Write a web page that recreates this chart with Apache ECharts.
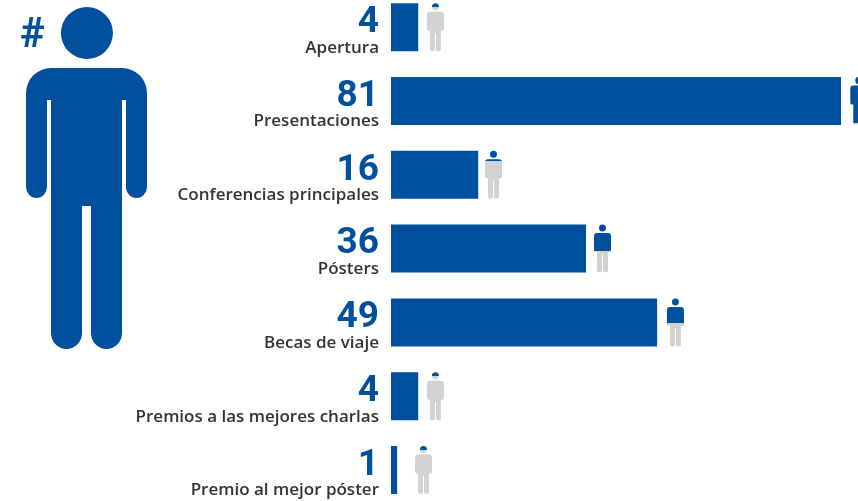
<!DOCTYPE html>
<html><head><meta charset="utf-8">
<style>html,body{margin:0;padding:0;background:#fff}#c{width:858px;height:501px}</style>
<script src="https://cdn.jsdelivr.net/npm/echarts@6/dist/echarts.min.js"></script>
</head><body><div id="c"></div>
<script>
var categories = ['Apertura','Presentaciones','Conferencias principales','Pósters','Becas de viaje','Premios a las mejores charlas','Premio al mejor póster'];
var counts = [4,81,16,36,49,4,1];
var barLengths = [4.9,81,15.7,35.1,47.9,4.9,1.1];
var iconPositions = [8.0,84.2,18.45,38.07,51.2,8.0,5.85];
var iconFill = [0.08,0.95,0.22,0.54,0.52,0.08,0.08];

var BLUE='#00509d', GRAY='#d2d2d2', TEXT='#333333';
var personPath='M8.5 0 A3.5 3.5 0 1 1 8.49 0 Z M3 8.5 H14 Q17 8.5 17 11.5 V25.5 Q17 27.5 15.5 27.5 H14 V46 Q14 48 11.6 48 Q9 48 9 46 V30 H8 V46 Q8 48 5.4 48 Q3 48 3 46 V27.5 H1.5 Q0 27.5 0 25.5 V11.5 Q0 8.5 3 8.5 Z';
var bigPerson='M87 7 A26 26 0 1 1 86.9 7 Z M52 68 H122 A25 25 0 0 1 147 93 V187 A10.5 11 0 0 1 126 187 V100 H122 V333 A15.5 16 0 0 1 91 333 V206 H82 V333 A15.5 16 0 0 1 51 333 V100 H47 V187 A10.5 11 0 0 1 26 187 V93 A25 25 0 0 1 52 68 Z';

var chart=echarts.init(document.getElementById('c'),null,{renderer:'canvas'});
chart.setOption({
  animation:false,
  backgroundColor:'#fff',
  grid:{left:391,top:-9.7,width:500,height:516.6,containLabel:false,outerBoundsMode:'none'},
  xAxis:{type:'value',min:0,max:90,show:false},
  yAxis:{type:'category',inverse:true,data:categories,
    axisLine:{show:false},axisTick:{show:false},
    axisLabel:{margin:12,align:'right',padding:[11,0,0,0],
      formatter:function(v,i){return '{n|'+counts[i]+'}\n{t|'+v+'}';},
      rich:{
        n:{fontFamily:'Roboto',fontWeight:'bold',fontSize:37,lineHeight:30,color:BLUE,align:'right'},
        t:{fontFamily:'Open Sans',fontWeight:600,fontSize:17,lineHeight:20,color:TEXT,align:'right'}
      }}},
  series:[
    {type:'bar',data:barLengths,barWidth:48,itemStyle:{color:BLUE},silent:true},
    {type:'scatter',clip:false,silent:true,
      symbol:'path://'+personPath,symbolSize:[17,48],symbolKeepAspect:false,
      data:iconPositions.map(function(x,i){
        return {value:[x,categories[i]],itemStyle:{opacity:1,color:{type:'linear',x:0,y:0,x2:0,y2:1,
          colorStops:[{offset:0,color:BLUE},{offset:iconFill[i],color:BLUE},{offset:iconFill[i],color:GRAY},{offset:1,color:GRAY}]}}};
      })},
    {type:'custom',coordinateSystem:'none',silent:true,data:[0],clip:false,
      renderItem:function(){
        return {type:'path',shape:{pathData:bigPerson,layout:'cover',x:26,y:7,width:121,height:342},style:{fill:BLUE}};
      }}
  ],
  graphic:[
    {type:'text',silent:true,left:20,top:15,style:{text:'#',fill:BLUE,font:'bold 42px Roboto'}}
  ]
});
</script></body></html>
